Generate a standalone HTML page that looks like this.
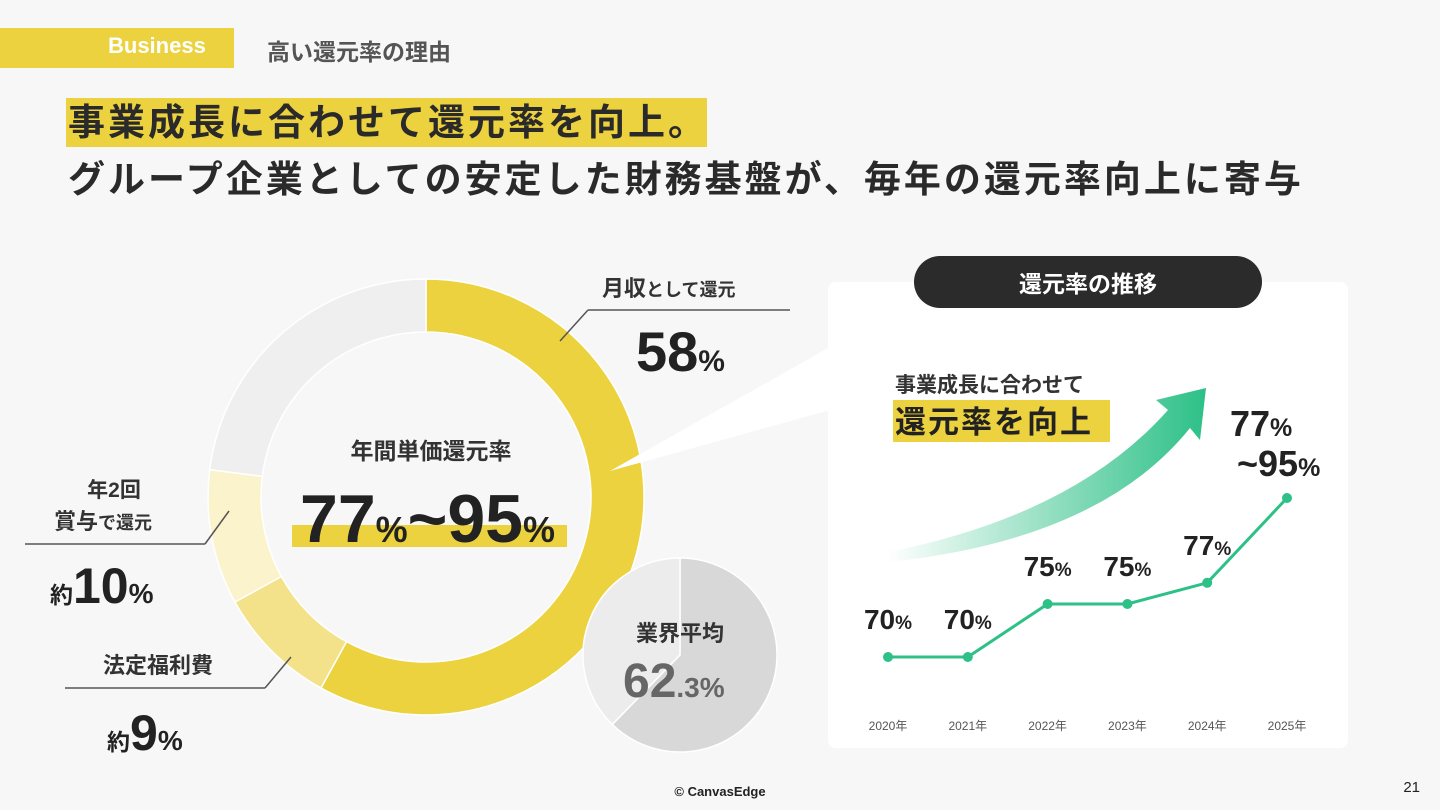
<!DOCTYPE html>
<html><head><meta charset="utf-8">
<style>
body{margin:0;width:1440px;height:810px;background:#f7f7f7;font-family:"Liberation Sans","Noto Sans CJK JP",sans-serif;overflow:hidden;position:relative;color:#2a2a2a}
.abs{position:absolute;white-space:nowrap}
</style></head><body>
<div class="abs" style="left:0;top:28px;width:234px;height:40px;background:#ecd23f"></div>
<div class="abs" style="left:108px;top:33px;font-size:22px;font-weight:bold;color:#fff">Business</div>
<div class="abs" style="left:267px;top:33px;font-size:23px;font-weight:bold;color:#555">高い還元率の理由</div>
<div class="abs" style="left:66px;top:98px;width:641px;height:49px;background:#ecd23f"></div>
<div class="abs" style="left:68px;top:98px;font-size:37px;font-weight:bold;letter-spacing:3px;line-height:49px">事業成長に合わせて還元率を向上。</div>
<div class="abs" style="left:68px;top:155px;font-size:37px;font-weight:bold;letter-spacing:3px;line-height:49px">グループ企業としての安定した財務基盤が、毎年の還元率向上に寄与</div>

<svg class="abs" style="left:0;top:0" width="1440" height="810">
<g id="donut"></g>
<g id="pie"></g>
<polygon points="610,471 830,347 830,410" fill="#fff"/>
<rect x="828" y="282" width="520" height="466" rx="8" fill="#fff"/>
<rect x="914" y="256" width="348" height="52" rx="26" fill="#2b2b2b"/>
<text x="1088" y="292" text-anchor="middle" font-size="23" font-weight="bold" fill="#fff">還元率の推移</text>
<defs><linearGradient id="ag" x1="0" y1="0" x2="1" y2="0"><stop offset="0" stop-color="#2dc087" stop-opacity="0"/><stop offset="1" stop-color="#2dc087"/></linearGradient></defs>
<path d="M888,552 Q1075,515 1168,410 L1156,400 L1206,388 L1200,440 L1190,428 Q1100,540 888,562 Z" fill="url(#ag)"/>
<text x="895" y="392" font-size="21" font-weight="bold" fill="#333">事業成長に合わせて</text>
<rect x="893" y="400" width="217" height="42" fill="#ecd23f"/>
<text x="895" y="433" font-size="31" font-weight="bold" letter-spacing="2" fill="#222">還元率を向上</text>
<g id="line"></g>
<line x1="560" y1="341" x2="588" y2="310" stroke="#555" stroke-width="1.5"/><line x1="588" y1="310" x2="790" y2="310" stroke="#555" stroke-width="1.5"/>
<text x="602" y="296" font-size="22" font-weight="bold" fill="#333">月収<tspan font-size="18">として還元</tspan></text>
<text x="636" y="371" font-size="56" font-weight="bold" fill="#222">58<tspan font-size="30">%</tspan></text>
<line x1="25" y1="544" x2="205" y2="544" stroke="#555" stroke-width="1.5"/><line x1="205" y1="544" x2="229" y2="511" stroke="#555" stroke-width="1.5"/>
<text x="114" y="497" text-anchor="middle" font-size="21" font-weight="bold" fill="#333">年2回</text>
<text x="54" y="529" font-size="22" font-weight="bold" fill="#333">賞与<tspan font-size="18">で還元</tspan></text>
<text x="50" y="603" font-size="23" font-weight="bold" fill="#222">約<tspan font-size="50">10</tspan><tspan font-size="28">%</tspan></text>
<line x1="65" y1="688" x2="265" y2="688" stroke="#555" stroke-width="1.5"/><line x1="265" y1="688" x2="291" y2="657" stroke="#555" stroke-width="1.5"/>
<text x="103" y="673" font-size="22" font-weight="bold" fill="#333">法定福利費</text>
<text x="107" y="750" font-size="23" font-weight="bold" fill="#222">約<tspan font-size="50">9</tspan><tspan font-size="28">%</tspan></text>
<text x="431" y="459" text-anchor="middle" font-size="23" font-weight="bold" fill="#333">年間単価還元率</text>
<rect x="292" y="525" width="275" height="22" fill="#ecd23f"/>
<text x="300" y="542" font-size="68" font-weight="bold" fill="#222">77<tspan font-size="36">%</tspan>~95<tspan font-size="36">%</tspan></text>
<text x="680" y="641" text-anchor="middle" font-size="22" font-weight="bold" fill="#333">業界平均</text>
<text x="623" y="697" font-size="48" font-weight="bold" fill="#666">62<tspan font-size="28">.3%</tspan></text>
<text x="720" y="796" text-anchor="middle" font-size="13" font-weight="bold" fill="#222">© CanvasEdge</text>
<text x="1420" y="792" text-anchor="end" font-size="15" fill="#222">21</text>
</svg>
<script>
const donutLabels=["月収","法定福利費","賞与","その他"];
const donutValues=[58,9,10,23];
const donutColors=["#ecd23f","#f4e28a","#fbf3cc","#efefef"];
const pieValues=[62.3,37.7];
const pieColors=["#d8d8d8","#ececec"];
const years=["2020年","2021年","2022年","2023年","2024年","2025年"];
const rates=[70,70,75,75,77,85];
const rateLabels=["70","70","75","75","77",""];
const NS="http://www.w3.org/2000/svg";
function arc(cx,cy,r0,r1,a0,a1){const p=(r,a)=>[cx+r*Math.sin(a),cy-r*Math.cos(a)];const l=(a1-a0)>Math.PI?1:0;
const [x1,y1]=p(r1,a0),[x2,y2]=p(r1,a1),[x3,y3]=p(r0,a1),[x4,y4]=p(r0,a0);
return r0>0?`M${x1},${y1}A${r1},${r1} 0 ${l} 1 ${x2},${y2}L${x3},${y3}A${r0},${r0} 0 ${l} 0 ${x4},${y4}Z`:`M${cx},${cy}L${x1},${y1}A${r1},${r1} 0 ${l} 1 ${x2},${y2}Z`;}
function slices(g,vals,cols,cx,cy,r0,r1,name){const tot=vals.reduce((a,b)=>a+b,0);let a=0;
vals.forEach((v,i)=>{const b=a+v/tot*2*Math.PI;const p=document.createElementNS(NS,"path");
p.setAttribute("d",arc(cx,cy,r0,r1,a,b));p.setAttribute("fill",cols[i]);p.setAttribute("stroke","#fff");p.setAttribute("stroke-width","1.5");


g.appendChild(p);a=b;});}
slices(document.getElementById("donut"),donutValues,donutColors,426,497,165,218,"donut-slice");
slices(document.getElementById("pie"),pieValues,pieColors,680,655,0,97,"pie-slice");
const lg=document.getElementById("line");
const xs=i=>888+i*79.8, ys=v=>657-(v-70)*10.6;
const pl=document.createElementNS(NS,"polyline");
pl.setAttribute("points",rates.map((v,i)=>xs(i)+","+ys(v)).join(" "));
pl.setAttribute("fill","none");pl.setAttribute("stroke","#2dc087");pl.setAttribute("stroke-width","3");


lg.appendChild(pl);
rates.forEach((v,i)=>{const c=document.createElementNS(NS,"circle");c.setAttribute("cx",xs(i));c.setAttribute("cy",ys(v));c.setAttribute("r","5");c.setAttribute("fill","#2dc087");


lg.appendChild(c);
const t=document.createElementNS(NS,"text");t.setAttribute("x",xs(i));t.setAttribute("y",730);t.setAttribute("text-anchor","middle");t.setAttribute("font-size","12");t.setAttribute("fill","#555");t.textContent=years[i];


lg.appendChild(t);
if(rateLabels[i]){const l=document.createElementNS(NS,"text");l.setAttribute("x",xs(i));l.setAttribute("y",ys(v)-28);l.setAttribute("text-anchor","middle");l.setAttribute("font-size","28");l.setAttribute("font-weight","bold");l.setAttribute("fill","#222");
l.innerHTML=rateLabels[i]+'<tspan font-size="19">%</tspan>';


lg.appendChild(l);}});
const f1=document.createElementNS(NS,"text");f1.setAttribute("x",1230);f1.setAttribute("y",436);f1.setAttribute("font-size","36");f1.setAttribute("font-weight","bold");f1.setAttribute("fill","#222");f1.innerHTML='77<tspan font-size="25">%</tspan>';


lg.appendChild(f1);
const f2=document.createElementNS(NS,"text");f2.setAttribute("x",1237);f2.setAttribute("y",476);f2.setAttribute("font-size","36");f2.setAttribute("font-weight","bold");f2.setAttribute("fill","#222");f2.innerHTML='~95<tspan font-size="25">%</tspan>';


lg.appendChild(f2);
</script>
</body></html>
